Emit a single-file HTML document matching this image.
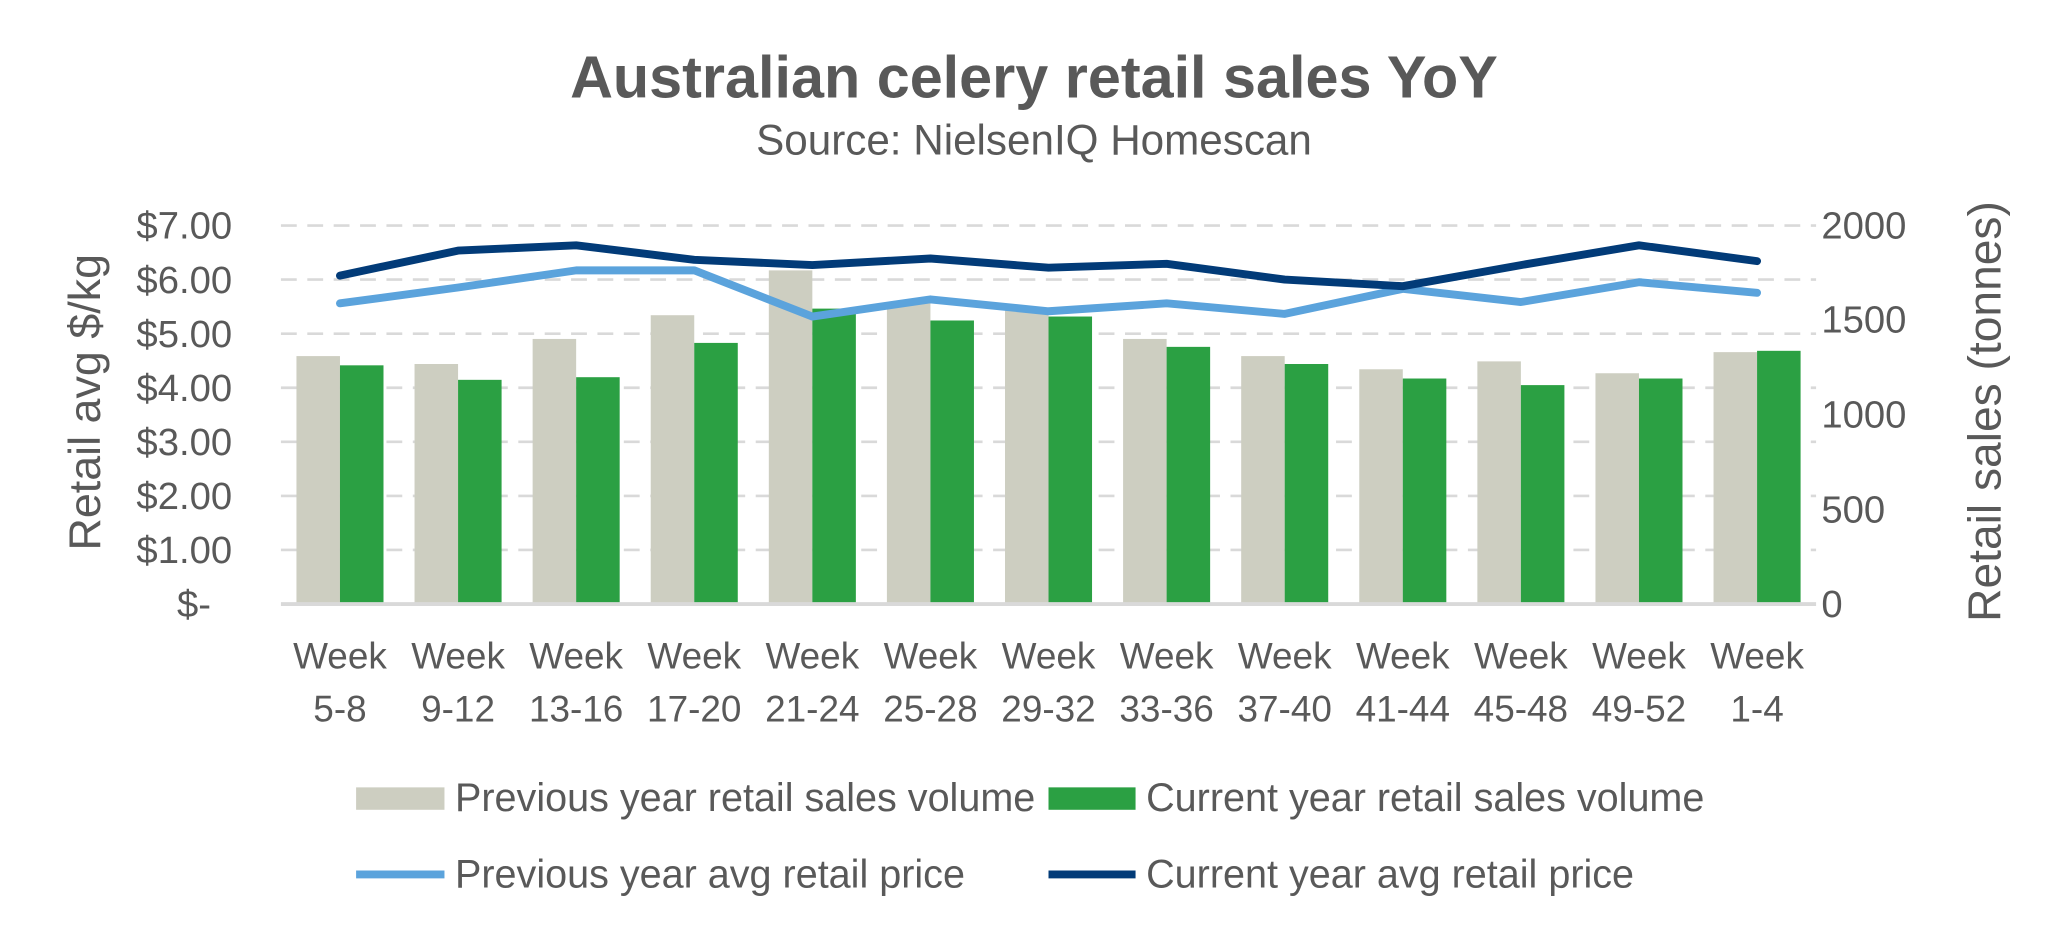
<!DOCTYPE html>
<html><head><meta charset="utf-8"><style>
html,body{margin:0;padding:0;background:#fff;}
svg{display:block;font-family:"Liberation Sans",sans-serif;}
</style></head><body>
<svg width="2068" height="936" viewBox="0 0 1568 709.7" xmlns="http://www.w3.org/2000/svg">
<rect width="1568" height="709.7" fill="#fff"/>
<text x="784" y="74" text-anchor="middle" font-size="45" font-weight="bold" fill="#595959">Australian celery retail sales YoY</text>
<text x="784" y="117" text-anchor="middle" font-size="32" fill="#595959">Source: NielsenIQ Homescan</text>
<g stroke="#d9d9d9" stroke-width="2" stroke-dasharray="12,8">
<line x1="213" x2="1377" y1="171" y2="171"/>
<line x1="213" x2="1377" y1="212" y2="212"/>
<line x1="213" x2="1377" y1="253" y2="253"/>
<line x1="213" x2="1377" y1="294" y2="294"/>
<line x1="213" x2="1377" y1="335" y2="335"/>
<line x1="213" x2="1377" y1="376" y2="376"/>
<line x1="213" x2="1377" y1="417" y2="417"/>
</g>
<g fill="#595959" font-size="29" text-anchor="end">
<text x="176" y="181">$7.00</text><text x="176" y="222">$6.00</text><text x="176" y="263">$5.00</text>
<text x="176" y="304">$4.00</text><text x="176" y="345">$3.00</text><text x="176" y="386">$2.00</text>
<text x="176" y="427">$1.00</text><text x="160" y="468">$-</text>
</g>
<g fill="#595959" font-size="29">
<text x="1381" y="181">2000</text><text x="1381" y="252">1500</text><text x="1381" y="324">1000</text>
<text x="1381" y="396">500</text><text x="1381" y="468">0</text>
</g>
<text transform="translate(76,305) rotate(-90)" text-anchor="middle" font-size="34" fill="#595959">Retail avg $/kg</text>
<text transform="translate(1517,312) rotate(-90)" text-anchor="middle" font-size="35" fill="#595959">Retail sales (tonnes)</text>
<g id="bars"></g>
<line x1="213" x2="1377" y1="458" y2="458" stroke="#d9d9d9" stroke-width="3"/>
<g id="labels" fill="#595959" font-size="28" text-anchor="middle"></g>
<polyline id="prev" fill="none" stroke="#5BA3DC" stroke-width="6" stroke-linecap="round" stroke-linejoin="round"/>
<polyline id="cur" fill="none" stroke="#023B78" stroke-width="6" stroke-linecap="round" stroke-linejoin="round"/>
<rect x="270" y="597" width="67" height="17" fill="#CDCEC1"/>
<text x="345" y="615" font-size="30" fill="#595959">Previous year retail sales volume</text>
<rect x="795" y="597" width="66" height="17" fill="#2BA043"/>
<text x="869" y="615" font-size="30" fill="#595959">Current year retail sales volume</text>
<line x1="270" x2="337" y1="663" y2="663" stroke="#5BA3DC" stroke-width="6"/>
<text x="345" y="673" font-size="30" fill="#595959">Previous year avg retail price</text>
<line x1="795" x2="861" y1="663" y2="663" stroke="#023B78" stroke-width="6"/>
<text x="869" y="673" font-size="30" fill="#595959">Current year avg retail price</text>
<script>
var ns="http://www.w3.org/2000/svg";
var prevB=[270,276,257,239,205,230,235,257,270,280,274,283,267];
var curB=[277,288,286,260,234,243,240,263,276,287,292,287,266];
var prevL=[230,218,205,205,240,227,236,230,238,219,229,214,222];
var curL=[209,190,186,197,201,196,203,200,212,217,201,186,198];
var labs=["5-8","9-12","13-16","17-20","21-24","25-28","29-32","33-36","37-40","41-44","45-48","49-52","1-4"];
var bg=document.getElementById("bars"),lg=document.getElementById("labels");
var pp=[],cp=[];
for(var i=0;i<13;i++){
 var c=213+89.54*(i+0.5);
 var r=document.createElementNS(ns,"rect");r.setAttribute("x",c-33);r.setAttribute("y",prevB[i]);r.setAttribute("width",33);r.setAttribute("height",458-prevB[i]);r.setAttribute("fill","#CDCEC1");bg.appendChild(r);
 r=document.createElementNS(ns,"rect");r.setAttribute("x",c);r.setAttribute("y",curB[i]);r.setAttribute("width",33);r.setAttribute("height",458-curB[i]);r.setAttribute("fill","#2BA043");bg.appendChild(r);
 var t=document.createElementNS(ns,"text");t.setAttribute("x",c);t.setAttribute("y",507);t.textContent="Week";lg.appendChild(t);
 t=document.createElementNS(ns,"text");t.setAttribute("x",c);t.setAttribute("y",547);t.textContent=labs[i];lg.appendChild(t);
 pp.push(c+","+prevL[i]);cp.push(c+","+curL[i]);
}
document.getElementById("prev").setAttribute("points",pp.join(" "));
document.getElementById("cur").setAttribute("points",cp.join(" "));
</script>
</svg>
</body></html>
